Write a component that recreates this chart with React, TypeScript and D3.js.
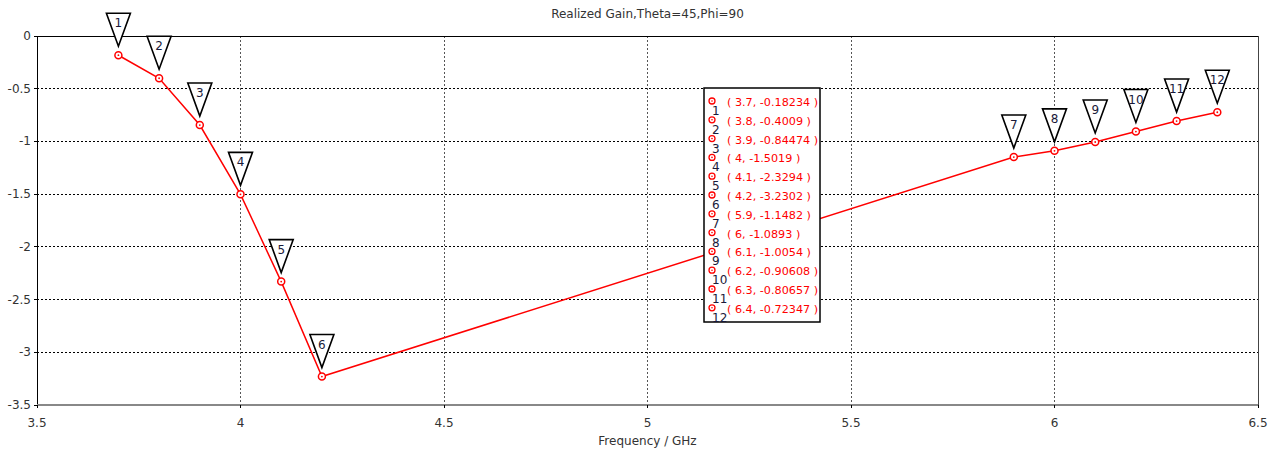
import React from "react";
import * as d3 from "d3";

const freqs = [3.7, 3.8, 3.9, 4, 4.1, 4.2, 5.9, 6, 6.1, 6.2, 6.3, 6.4];
const gains = [-0.18234, -0.4009, -0.84474, -1.5019, -2.3294, -3.2302, -1.1482, -1.0893, -1.0054, -0.90608, -0.80657, -0.72347];
const xTicks = [3.5, 4, 4.5, 5, 5.5, 6, 6.5];
const yTicks = [0, -0.5, -1, -1.5, -2, -2.5, -3, -3.5];
const title = "Realized Gain,Theta=45,Phi=90";
const xLabel = "Frequency / GHz";

const W = 1276;
const H = 452;
const M = { left: 37, right: 1258, top: 36, bottom: 405 };
const FONT = "Tahoma, 'DejaVu Sans', 'Noto Sans', sans-serif";

export default function App() {
  const x = d3.scaleLinear().domain([3.5, 6.5]).range([M.left, M.right]);
  const y = d3.scaleLinear().domain([-3.5, 0]).range([M.bottom, M.top]);
  const pts = freqs.map((f, i) => ({ f, g: gains[i], n: i + 1 }));
  const line = d3
    .line<{ f: number; g: number }>()
    .x((d) => x(d.f))
    .y((d) => y(d.g));

  const legendLeft = 704;
  const legendTop = 88;
  const rowH = 18.8;

  return (
    <svg
      width={W}
      height={H}
      style={{ position: "absolute", left: 0, top: 0, background: "#fff" }}
      fontFamily={FONT}
    >
      <rect x={0} y={0} width={W} height={H} fill="#fff" />
      {/* grid */}
      {yTicks.slice(1, -1).map((t) => (
        <line key={"gy" + t} x1={M.left} x2={M.right} y1={y(t)} y2={y(t)} stroke="#000" strokeWidth={1} strokeDasharray="2,2" shapeRendering="crispEdges" />
      ))}
      {xTicks.slice(1, -1).map((t) => (
        <line key={"gx" + t} x1={x(t)} x2={x(t)} y1={M.top} y2={M.bottom} stroke="#555" strokeWidth={1} strokeDasharray="2,2" shapeRendering="crispEdges" />
      ))}
      {/* frame */}
      <line x1={M.left - 3} x2={M.right} y1={M.top} y2={M.top} stroke="#000" strokeWidth={1} shapeRendering="crispEdges" />
      <line x1={M.right} x2={M.right} y1={M.top} y2={M.bottom} stroke="#444" strokeWidth={1} shapeRendering="crispEdges" />
      <line x1={M.left} x2={M.left} y1={M.top} y2={M.bottom + 3} stroke="#000" strokeWidth={1} shapeRendering="crispEdges" />
      <line x1={M.left} x2={M.right} y1={M.bottom} y2={M.bottom} stroke="#888" strokeWidth={2} shapeRendering="crispEdges" />
      {/* ticks */}
      {yTicks.map((t) => (
        <g key={"ty" + t}>
          <line x1={M.left - 3} x2={M.left} y1={y(t)} y2={y(t)} stroke="#000" shapeRendering="crispEdges" />
          <text x={M.left - 6} y={y(t) + 4} textAnchor="end" fontSize={12} fill="#333">
            {t}
          </text>
        </g>
      ))}
      {xTicks.map((t) => (
        <g key={"tx" + t}>
          <line x1={x(t)} x2={x(t)} y1={M.bottom} y2={M.bottom + 3} stroke="#000" shapeRendering="crispEdges" />
          <text x={x(t)} y={M.bottom + 22} textAnchor="middle" fontSize={12} fill="#333">
            {t}
          </text>
        </g>
      ))}
      <text x={(M.left + M.right) / 2} y={18} textAnchor="middle" fontSize={12} fill="#333">
        {title}
      </text>
      <text x={(M.left + M.right) / 2} y={445} textAnchor="middle" fontSize={12} fill="#333">
        {xLabel}
      </text>
      {/* curve */}
      <path d={line(pts) || ""} fill="none" stroke="#ff0000" strokeWidth={1.5} />
      {pts.map((p) => (
        <g key={"p" + p.n}>
          <circle cx={x(p.f)} cy={y(p.g)} r={3.5} fill="#fff" stroke="#ff0000" strokeWidth={1.5} />
          <circle cx={x(p.f)} cy={y(p.g)} r={0.9} fill="#ff0000" />
        </g>
      ))}
      {/* markers */}
      {pts.map((p) => {
        const px = x(p.f);
        const py = y(p.g);
        const top = py - 42;
        const apex = py - 9;
        return (
          <g key={"m" + p.n}>
            <path
              d={`M${px - 12},${top} L${px + 12},${top} L${px},${apex} Z`}
              fill="#fff"
              stroke="#000"
              strokeWidth={1.6}
              strokeLinejoin="miter"
            />
            <text x={px} y={top + 14} textAnchor="middle" fontSize={12} fill="#1a1a3a">
              {p.n}
            </text>
          </g>
        );
      })}
      {/* legend */}
      <rect
        x={legendLeft}
        y={legendTop}
        width={116}
        height={234}
        fill="#fff"
        stroke="#000"
        strokeWidth={1.5}
      />
      {pts.map((p, i) => {
        const cy = legendTop + 13 + i * rowH;
        return (
          <g key={"l" + p.n}>
            <circle cx={legendLeft + 8} cy={cy} r={3} fill="#fff" stroke="#ff0000" strokeWidth={1.3} />
            <circle cx={legendLeft + 8} cy={cy} r={0.8} fill="#ff0000" />
            <text x={legendLeft + 8} y={cy + 14} fontSize={12} fill="#1a1a3a">
              {p.n}
            </text>
            <text x={legendLeft + 23} y={cy + 5} fontSize={11.2} fill="#ff0000">
              {`( ${p.f}, ${p.g} )`}
            </text>
          </g>
        );
      })}
    </svg>
  );
}
